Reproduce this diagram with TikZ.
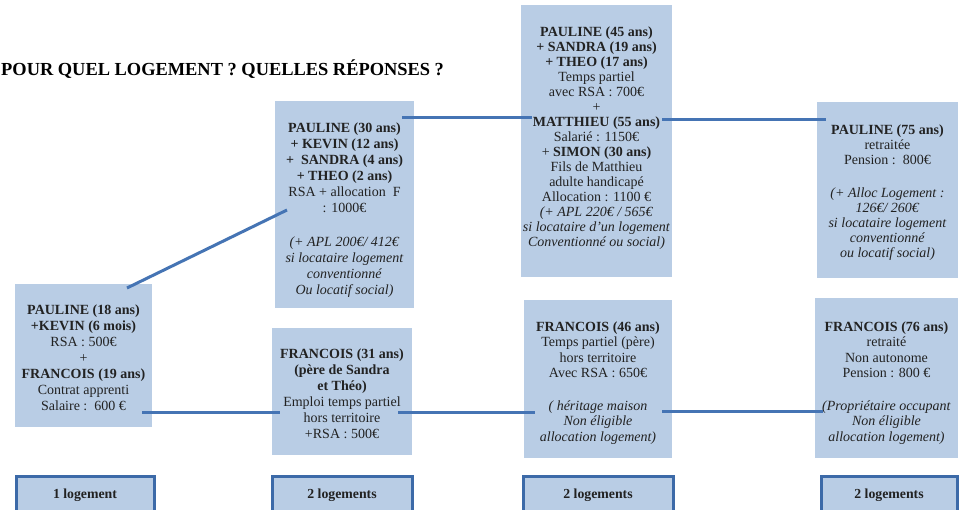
\documentclass[tikz,border=0pt]{standalone}
\usepackage{fontspec}
\setmainfont{Liberation Serif}
\definecolor{boxfill}{HTML}{B9CDE5}
\definecolor{linkblue}{HTML}{4574B4}
\definecolor{frameblue}{HTML}{3C6AA8}
\definecolor{txt}{HTML}{222222}
\tikzset{
  infobox/.style={fill=boxfill, inner sep=0pt},
  infotext/.style={inner sep=0pt, align=center, text=txt,
    font=\fontsize{14}{16}\selectfont},
  countbox/.style={fill=boxfill, draw=frameblue, line width=3pt, inner sep=0pt,
    align=center, text=txt, font=\fontsize{13.8}{16}\selectfont\bfseries},
  link/.style={draw=linkblue, line width=3pt}
}
\begin{document}
\begin{tikzpicture}[x=1pt,y=-1pt]
\useasboundingbox (0,0) rectangle (961,509);
\clip (0,0) rectangle (961,509);
\fill[white] (0,0) rectangle (961,509);

% title
\node[anchor=base west, inner sep=0pt, text=black, font=\fontsize{18.4}{22}\selectfont\bfseries]
  (title) at (1,75) {POUR QUEL LOGEMENT ? QUELLES RÉPONSES ?};

% boxes
\node[infobox, minimum width=137pt, minimum height=143pt] (A) at (83.5,355.5) {};
\node[infotext] (At) at (83.5,358)
 {\textbf{PAULINE (18 ans)}\\ \textbf{+KEVIN (6 mois)}\\ RSA : 500€\\ +\\ \textbf{FRANCOIS (19 ans)}\\ Contrat apprenti\\ Salaire :\ \ 600 €};

\node[infobox, minimum width=139pt, minimum height=207pt] (B) at (344.5,204.5) {};
\node[infotext] (Bt) at (344.5,210)
 {\textbf{PAULINE (30 ans)}\\ \textbf{+ KEVIN (12 ans)}\\ \textbf{+\ \ SANDRA (4 ans)}\\ \textbf{+ THEO (2 ans)}\\ RSA + allocation\ \ F\\ : 1000€\\[18pt] \textit{(+ APL 200€/ 412€}\\ \textit{si locataire logement}\\ \textit{conventionné}\\ \textit{Ou locatif social)}};

\node[infobox, minimum width=151pt, minimum height=272pt] (C) at (596.5,141) {};
\node[infotext, font=\fontsize{14}{15}\selectfont] (Ct) at (596.5,138.5)
 {\textbf{PAULINE (45 ans)}\\ \textbf{+ SANDRA (19 ans)}\\ \textbf{+ THEO (17 ans)}\\ Temps partiel\\ avec RSA : 700€\\ +\\ \textbf{MATTHIEU (55 ans)}\\ Salarié : 1150€\\ + \textbf{SIMON (30 ans)}\\ Fils de Matthieu\\ adulte handicapé\\ Allocation : 1100 €\\ \textit{(+ APL 220€ / 565€}\\ \textit{si locataire d'un logement}\\ \textit{Conventionné ou social)}};

\node[infobox, minimum width=141pt, minimum height=176pt] (D) at (887.5,190) {};
\node[infotext, font=\fontsize{14}{15}\selectfont] (Dt) at (887.5,192.5)
 {\textbf{PAULINE (75 ans)}\\ retraitée\\ Pension :\ \ 800€\\[18pt] \textit{(+ Alloc Logement :}\\ \textit{126€/ 260€}\\ \textit{si locataire logement}\\ \textit{conventionné}\\ \textit{ou locatif social)}};

\node[infobox, minimum width=140pt, minimum height=127pt] (E) at (342,391.5) {};
\node[infotext] (Et) at (342,394)
 {\textbf{FRANCOIS (31 ans)}\\ \textbf{(père de Sandra}\\ \textbf{et Théo)}\\ Emploi temps partiel\\ hors territoire\\ +RSA : 500€};

\node[infobox, minimum width=148pt, minimum height=158pt] (F) at (598,379) {};
\node[infotext, font=\fontsize{14}{15.3}\selectfont] (Ft) at (598,383)
 {\textbf{FRANCOIS (46 ans)}\\ Temps partiel (père)\\ hors territoire\\ Avec RSA : 650€\\[17.7pt] \textit{( héritage maison}\\ \textit{Non éligible}\\ \textit{allocation logement)}};

\node[infobox, minimum width=143pt, minimum height=160pt] (G) at (886.5,378) {};
\node[infotext, font=\fontsize{14}{15.3}\selectfont] (Gt) at (886.5,383)
 {\textbf{FRANCOIS (76 ans)}\\ retraité\\ Non autonome\\ Pension : 800 €\\[17.7pt] \textit{(Propriétaire occupant}\\ \textit{Non éligible}\\ \textit{allocation logement)}};

% bottom count boxes
\node[countbox, minimum width=138pt, minimum height=38pt] (N1) at (85,495) {1 logement};
\node[countbox, minimum width=140pt, minimum height=38pt] (N2) at (342,495) {2 logements};
\node[countbox, minimum width=150pt, minimum height=38pt] (N3) at (598,495) {2 logements};
\node[countbox, minimum width=136pt, minimum height=38pt] (N4) at (889,495) {2 logements};

% connector end points
\coordinate (ab1) at (127,288);
\coordinate (ab2) at (287,210);
\coordinate (bc1) at (402,117);
\coordinate (bc2) at (532,117);
\coordinate (cd1) at (662,119);
\coordinate (cd2) at (826,119);
\coordinate (ae1) at (142,412);
\coordinate (ae2) at (280,412);
\coordinate (ef1) at (398,412);
\coordinate (ef2) at (535,412);
\coordinate (fg1) at (662,411);
\coordinate (fg2) at (823,411);

\draw[link] (ab1) -- (ab2);
\draw[link] (bc1) -- (bc2);
\draw[link] (cd1) -- (cd2);
\draw[link] (ae1) -- (ae2);
\draw[link] (ef1) -- (ef2);
\draw[link] (fg1) -- (fg2);
\end{tikzpicture}
\end{document}
